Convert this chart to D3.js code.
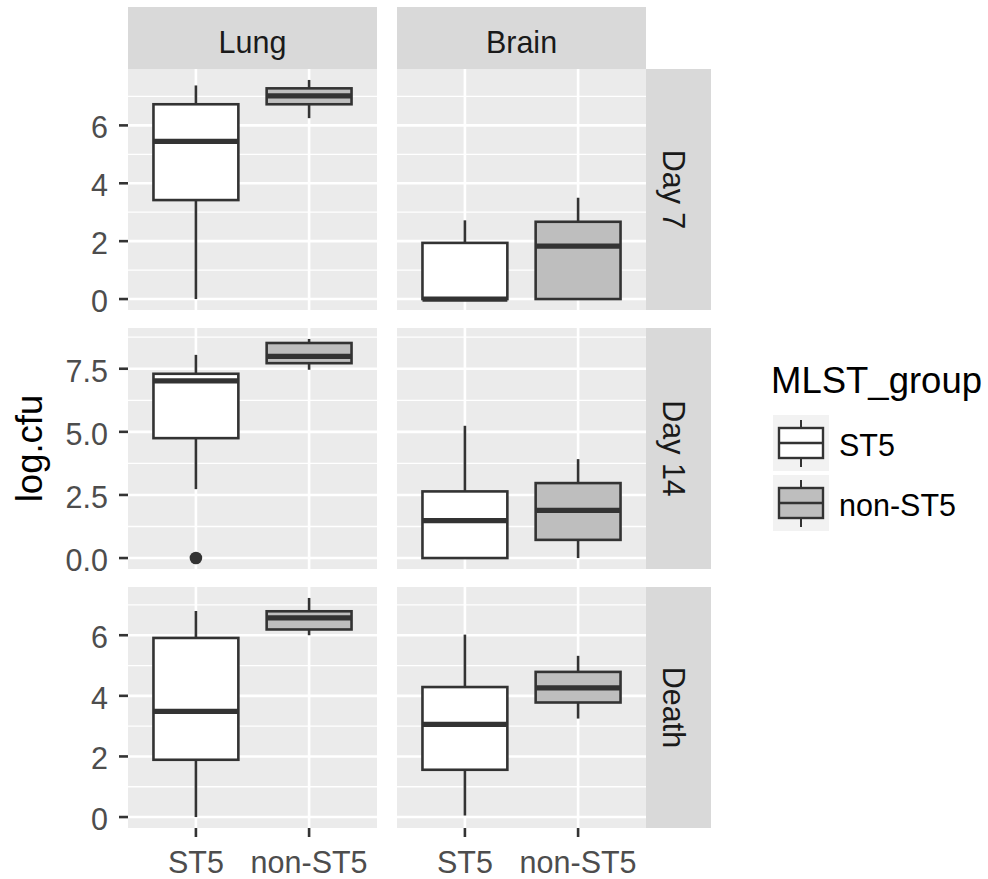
<!DOCTYPE html>
<html>
<head>
<meta charset="utf-8">
<script src="https://cdn.jsdelivr.net/npm/d3@7"></script>
<style>
  body { margin: 0; background: #fff; }
  svg { display: block; font-family: "Liberation Sans", Arial, sans-serif; }
</style>
</head>
<body>
<svg id="chart" width="988" height="879"></svg>
<script>
// facets and groups
var columns = ['Lung', 'Brain'];
var rows = ['Day 7', 'Day 14', 'Death'];
var groups = ['ST5', 'non-ST5'];
var groupFill = ['#FFFFFF', '#BEBEBE'];

// box stats per row: [whisker low, q1, median, q3, whisker high]
var lungST5 = [
    [0, 3.42, 5.45, 6.73, 7.38],
    [2.73, 4.75, 7.02, 7.30, 8.05],
    [0, 1.89, 3.49, 5.91, 6.80]
];
var lungNonST5 = [
    [6.25, 6.73, 7.02, 7.28, 7.57],
    [7.46, 7.72, 7.99, 8.52, 8.68],
    [6.00, 6.19, 6.57, 6.79, 7.23]
];
var brainST5 = [
    [0, 0, 0, 1.94, 2.72],
    [0, 0, 1.48, 2.64, 5.24],
    [0.05, 1.56, 3.06, 4.29, 6.02]
];
var brainNonST5 = [
    [0, 0, 1.83, 2.67, 3.50],
    [0, 0.72, 1.89, 2.97, 3.92],
    [3.25, 3.78, 4.26, 4.79, 5.32]
];
// outliers: [row, column, group, value]
var outliers = [
    ['Day 14', 'Lung', 'ST5', 0]
];

var yTicks = [[0, 2, 4, 6], [0, 2.5, 5, 7.5], [0, 2, 4, 6]];
var yTickLabels = [['0', '2', '4', '6'], ['0.0', '2.5', '5.0', '7.5'], ['0', '2', '4', '6']];

var stats = {
    'Lung': [lungST5, lungNonST5],
    'Brain': [brainST5, brainNonST5]
};

// layout
var panelLeft = [128, 397],
    panelWidth = 249,
    panelTop = [69, 328, 587],
    panelHeight = 241,
    stripTop = 7,
    stripRight = 65,
    panelFill = '#EBEBEB',
    stripFill = '#D9D9D9',
    lineColor = '#333333',
    tickText = '#4D4D4D';

var svg = d3.select('#chart');

// discrete x: groups sit at 1 and 2, expanded by 0.6 on each side
var xLin = d3.scaleLinear().domain([0.4, 2.6]).range([0, panelWidth]);
var boxHalf = xLin(1.375) - xLin(1);

rows.forEach(function(rowName, ri) {
    var top = panelTop[ri];

    var rowVals = [];
    columns.forEach(function(c) {
        stats[c].forEach(function(s) { rowVals = rowVals.concat(s[ri]); });
    });
    outliers.forEach(function(o) { if (o[0] === rowName) rowVals.push(o[3]); });
    var lo = d3.min(rowVals), hi = d3.max(rowVals), pad = (hi - lo) * 0.05;

    var y = d3.scaleLinear()
        .domain([lo - pad, hi + pad])
        .range([top + panelHeight, top]);

    var ticks = yTicks[ri];
    var step = ticks[1] - ticks[0];
    var minor = ticks.map(function(t) { return t + step / 2; })
        .filter(function(v) { return v > y.domain()[0] && v < y.domain()[1]; });

    columns.forEach(function(colName, ci) {
        var left = panelLeft[ci];
        var g = svg.append('g');

        g.append('rect')
            .attr('x', left).attr('y', top)
            .attr('width', panelWidth).attr('height', panelHeight)
            .attr('fill', panelFill);

        g.selectAll('line.minor').data(minor).enter().append('line')
            .attr('x1', left).attr('x2', left + panelWidth)
            .attr('y1', function(d) { return y(d); })
            .attr('y2', function(d) { return y(d); })
            .attr('stroke', '#fff').attr('stroke-width', 1.3);

        g.selectAll('line.major').data(ticks).enter().append('line')
            .attr('x1', left).attr('x2', left + panelWidth)
            .attr('y1', function(d) { return y(d); })
            .attr('y2', function(d) { return y(d); })
            .attr('stroke', '#fff').attr('stroke-width', 2.6);

        g.selectAll('line.vmajor').data(groups).enter().append('line')
            .attr('x1', function(d, i) { return left + xLin(i + 1); })
            .attr('x2', function(d, i) { return left + xLin(i + 1); })
            .attr('y1', top).attr('y2', top + panelHeight)
            .attr('stroke', '#fff').attr('stroke-width', 2.6);

        // boxes
        groups.forEach(function(grp, gi) {
            var s = stats[colName][gi][ri];
            var cx = left + xLin(gi + 1);
            g.append('line')
                .attr('x1', cx).attr('x2', cx)
                .attr('y1', y(s[4])).attr('y2', y(s[3]))
                .attr('stroke', lineColor).attr('stroke-width', 2.6);
            g.append('line')
                .attr('x1', cx).attr('x2', cx)
                .attr('y1', y(s[1])).attr('y2', y(s[0]))
                .attr('stroke', lineColor).attr('stroke-width', 2.6);
            g.append('rect')
                .attr('x', cx - boxHalf).attr('width', boxHalf * 2)
                .attr('y', y(s[3])).attr('height', y(s[1]) - y(s[3]))
                .attr('fill', groupFill[gi])
                .attr('stroke', lineColor).attr('stroke-width', 2.6);
            g.append('line')
                .attr('x1', cx - boxHalf).attr('x2', cx + boxHalf)
                .attr('y1', y(s[2])).attr('y2', y(s[2]))
                .attr('stroke', lineColor).attr('stroke-width', 5.2);
        });

        outliers.filter(function(o) { return o[0] === rowName && o[1] === colName; })
            .forEach(function(o) {
                g.append('circle')
                    .attr('cx', left + xLin(groups.indexOf(o[2]) + 1))
                    .attr('cy', y(o[3]))
                    .attr('r', 6.3)
                    .attr('fill', lineColor);
            });

        // top strips
        if (ri === 0) {
            svg.append('rect')
                .attr('x', left).attr('y', stripTop)
                .attr('width', panelWidth).attr('height', top - stripTop)
                .attr('fill', stripFill);
            svg.append('text')
                .attr('x', left + panelWidth / 2).attr('y', 53)
                .attr('text-anchor', 'middle')
                .attr('font-size', 30.5).attr('fill', '#1A1A1A')
                .text(colName);
        }

        // x axis under bottom row
        if (ri === rows.length - 1) {
            groups.forEach(function(grp, gi) {
                var cx = left + xLin(gi + 1);
                svg.append('line')
                    .attr('x1', cx).attr('x2', cx)
                    .attr('y1', top + panelHeight).attr('y2', top + panelHeight + 9)
                    .attr('stroke', lineColor).attr('stroke-width', 2.6);
                svg.append('text')
                    .attr('x', cx).attr('y', 873)
                    .attr('text-anchor', 'middle')
                    .attr('font-size', 30.5).attr('fill', tickText)
                    .text(grp);
            });
        }
    });

    // y axis
    ticks.forEach(function(t, ti) {
        svg.append('line')
            .attr('x1', panelLeft[0] - 9).attr('x2', panelLeft[0])
            .attr('y1', y(t)).attr('y2', y(t))
            .attr('stroke', lineColor).attr('stroke-width', 2.6);
        svg.append('text')
            .attr('x', panelLeft[0] - 20).attr('y', y(t) + 13)
            .attr('text-anchor', 'end')
            .attr('font-size', 30.5).attr('fill', tickText)
            .text(yTickLabels[ri][ti]);
    });

    // right strip
    var sx = panelLeft[1] + panelWidth;
    svg.append('rect')
        .attr('x', sx).attr('y', top)
        .attr('width', stripRight).attr('height', panelHeight)
        .attr('fill', stripFill);
    svg.append('text')
        .attr('transform', 'translate(' + (sx + 17) + ',' + (top + panelHeight / 2) + ') rotate(90)')
        .attr('text-anchor', 'middle')
        .attr('font-size', 30.5).attr('fill', '#1A1A1A')
        .text(rowName);
});

// y axis title
svg.append('text')
    .attr('transform', 'translate(42,' + ((panelTop[0] + panelTop[2] + panelHeight) / 2) + ') rotate(-90)')
    .attr('text-anchor', 'middle')
    .attr('font-size', 36.5).attr('fill', '#000')
    .text('log.cfu');

// legend
var legend = svg.append('g').attr('transform', 'translate(773,415)');
legend.append('text')
    .attr('x', -2).attr('y', -22)
    .attr('font-size', 36.5).attr('fill', '#000')
    .text('MLST_group');

var keySize = 56, keyGap = 4;
groups.forEach(function(grp, gi) {
    var ky = gi * (keySize + keyGap);
    var k = legend.append('g').attr('transform', 'translate(0,' + ky + ')');
    k.append('rect')
        .attr('width', keySize).attr('height', keySize)
        .attr('fill', '#F2F2F2');
    var cx = keySize / 2;
    k.append('line').attr('x1', cx).attr('x2', cx).attr('y1', 5).attr('y2', 13)
        .attr('stroke', lineColor).attr('stroke-width', 2);
    k.append('line').attr('x1', cx).attr('x2', cx).attr('y1', 43).attr('y2', 52)
        .attr('stroke', lineColor).attr('stroke-width', 2);
    k.append('rect')
        .attr('x', 6).attr('y', 13).attr('width', keySize - 12).attr('height', 30)
        .attr('fill', groupFill[gi])
        .attr('stroke', lineColor).attr('stroke-width', 2.4);
    k.append('line').attr('x1', 6).attr('x2', keySize - 6).attr('y1', 28).attr('y2', 28)
        .attr('stroke', lineColor).attr('stroke-width', 2.4);
    k.append('text')
        .attr('x', keySize + 10).attr('y', keySize / 2 + 13)
        .attr('font-size', 30.5).attr('fill', '#000')
        .text(grp);
});
</script>
</body>
</html>
